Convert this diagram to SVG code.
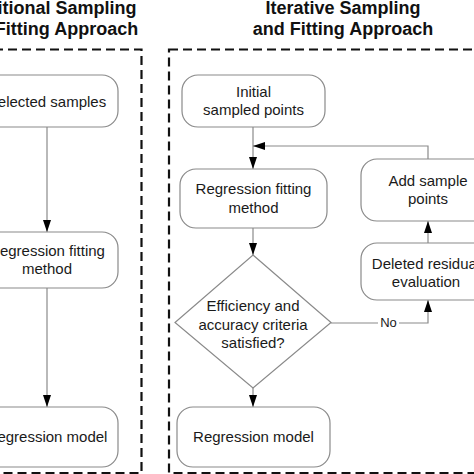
<svg xmlns="http://www.w3.org/2000/svg" width="474" height="474" viewBox="0 0 474 474">
<style>
.node{fill:#fff;stroke:#8a8a8a;stroke-width:1.2}
.t{font-family:"Liberation Sans",Arial,sans-serif;font-size:15px;fill:#1a1a1a;text-anchor:middle}
.title{font-family:"Liberation Sans",Arial,sans-serif;font-size:18px;font-weight:bold;fill:#111;text-anchor:middle}
.frame{fill:none;stroke:#111;stroke-width:2.2;stroke-dasharray:9,5}
.c{fill:none;stroke:#8a8a8a;stroke-width:1.2;marker-end:url(#ah)}
.cn{fill:none;stroke:#8a8a8a;stroke-width:1.2}
</style>
<defs>
<marker id="ah" markerUnits="userSpaceOnUse" markerWidth="12" markerHeight="8" refX="12" refY="4" orient="auto">
<path d="M0,0 L12,4 L0,8 z" fill="#000"/>
</marker>
</defs>
<rect width="474" height="474" fill="#fff"/>
<g id="titles">
<text class="title" x="48" y="14">Traditional Sampling</text>
<text class="title" x="48" y="34.5">and Fitting Approach</text>
<text class="title" x="343" y="14">Iterative Sampling</text>
<text class="title" x="343" y="34.5">and Fitting Approach</text>
</g>
<g id="frames">
<rect class="frame" x="-20" y="49.5" width="161.5" height="423.5"/>
<rect class="frame" x="169" y="49.5" width="320" height="423.5"/>
</g>
<g id="connectors">
<path class="c" d="M47,127 V232"/>
<path class="c" d="M47,288 V407"/>
<path class="c" d="M253,127 V169"/>
<path class="c" d="M428,159 V146 H253"/>
<path class="c" d="M253,228 V255"/>
<path class="c" d="M253,388 V407"/>
<path class="c" d="M428,243 V221"/>
<path class="c" d="M331,323 H428 V300"/>
<rect x="378" y="316" width="21" height="13" fill="#fff"/>
<text x="388.5" y="327" style="font-family:'Liberation Sans',Arial,sans-serif;font-size:13px;fill:#1a1a1a;text-anchor:middle">No</text>
</g>
<g id="selected-samples">
<rect class="node" x="-24" y="75" width="142" height="52" rx="16"/>
<text class="t" x="47" y="106.5">Selected samples</text>
</g>
<g id="regression-fitting-left">
<rect class="node" x="-24" y="232" width="142" height="56" rx="16"/>
<text class="t" x="47" y="256">Regression fitting</text>
<text class="t" x="47" y="274">method</text>
</g>
<g id="regression-model-left">
<rect class="node" x="-24" y="407" width="142" height="60" rx="16"/>
<text class="t" x="47" y="442">Regression model</text>
</g>
<g id="initial-sampled-points">
<rect class="node" x="182" y="75" width="143" height="52" rx="16"/>
<text class="t" x="253.5" y="97">Initial</text>
<text class="t" x="253.5" y="115">sampled points</text>
</g>
<g id="regression-fitting-right">
<rect class="node" x="180" y="169" width="147" height="59" rx="16"/>
<text class="t" x="253.5" y="194">Regression fitting</text>
<text class="t" x="253.5" y="213">method</text>
</g>
<g id="criteria">
<polygon class="node" points="253,255 331,322.5 253,388 175,322.5"/>
<text class="t" x="253" y="311">Efficiency and</text>
<text class="t" x="253" y="329.5">accuracy criteria</text>
<text class="t" x="253" y="348">satisfied?</text>
</g>
<g id="regression-model-right">
<rect class="node" x="177" y="407" width="153" height="60" rx="16"/>
<text class="t" x="253.5" y="442">Regression model</text>
</g>
<g id="add-sample-points">
<rect class="node" x="361" y="159" width="134" height="62" rx="16"/>
<text class="t" x="428" y="185.5">Add sample</text>
<text class="t" x="428" y="203.5">points</text>
</g>
<g id="deleted-residual">
<rect class="node" x="361" y="243" width="134" height="57" rx="16"/>
<text class="t" x="426" y="268.5">Deleted residual</text>
<text class="t" x="426" y="287">evaluation</text>
</g>
</svg>
